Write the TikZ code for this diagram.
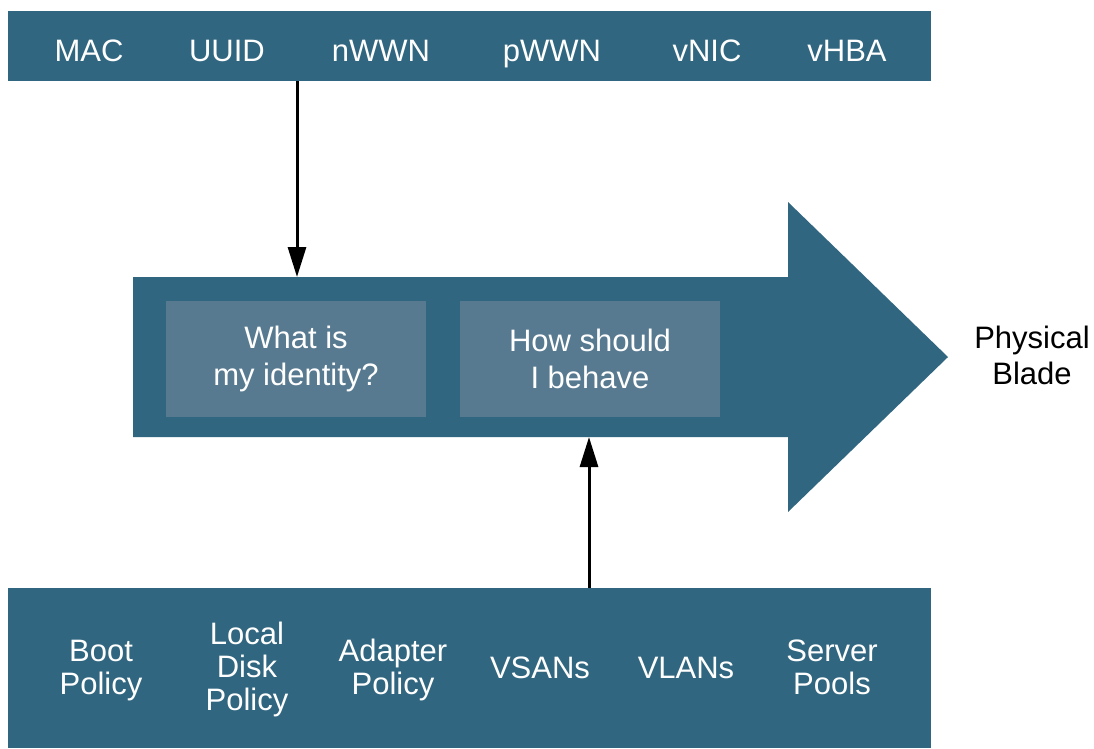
\documentclass[tikz,border=0pt]{standalone}
\usepackage{fontspec}
\setmainfont{Liberation Sans}
\usepackage{tikz}
\usetikzlibrary{arrows.meta}
\usetikzlibrary{positioning}
\pgfdeclarelayer{nodelayer}
\pgfdeclarelayer{edgelayer}
\pgfsetlayers{main,edgelayer,nodelayer}
\definecolor{ucsblue}{RGB}{48,102,127}
\definecolor{ucslight}{RGB}{88,122,145}
\tikzset{bar/.style={shape=rectangle, fill=ucsblue, draw=none, inner sep=0pt, anchor=center}}
\tikzset{qbox/.style={shape=rectangle, fill=ucslight, draw=none, inner sep=0pt,
minimum width=260pt, minimum height=116pt, text=white, align=center, font=\fontsize{31}{37}\selectfont}}
\tikzset{lbl/.style={inner sep=0pt, anchor=base, text=white, align=center, font=\fontsize{31}{33}\selectfont}}
\tikzset{feed/.style={line width=3pt, -{Triangle[length=30pt, width=18pt]}}}
\tikzstyle{none}=[inner sep=0pt]

\begin{document}
\begin{tikzpicture}[x=1pt, y=-1pt]
        \useasboundingbox (0, 0) rectangle (1094, 748);
        % big arrow towards the blade
        \fill [ucsblue] (133, 277) -- (788, 277) -- (788, 202) -- (948, 357)
                -- (788, 512) -- (788, 437) -- (133, 437) -- cycle;
        \begin{pgfonlayer}{nodelayer}
            \node [bar, minimum width=923pt, minimum height=70pt] (0) at (469.5, 46) {};
            \node [bar, minimum width=923pt, minimum height=160pt] (1) at (469.5, 668) {};
            \node [qbox] (2) at (296, 359) {What is\\my identity?};
            \node [qbox] (3) at (590, 359) {How should\\I behave};
            \node [none, align=center, font=\fontsize{31}{36}\selectfont] (4) at (1032, 355) {Physical\\Blade};
            % identities
            \node [lbl] (5) at (89, 61) {MAC};
            \node [lbl] (6) at (227, 61) {UUID};
            \node [lbl] (7) at (381, 61) {nWWN};
            \node [lbl] (8) at (552, 61) {pWWN};
            \node [lbl] (9) at (707, 61) {vNIC};
            \node [lbl] (10) at (847, 61) {vHBA};
            % policies (base = last line)
            \node [lbl] (11) at (101, 694) {Boot\\Policy};
            \node [lbl] (12) at (247, 710) {Local\\Disk\\Policy};
            \node [lbl] (13) at (393, 694) {Adapter\\Policy};
            \node [lbl] (14) at (540, 678) {VSANs};
            \node [lbl] (15) at (686, 678) {VLANs};
            \node [lbl] (16) at (832, 694) {Server\\Pools};
            \coordinate (17) at (297, 81);
            \coordinate (18) at (297, 277);
            \coordinate (19) at (589, 588);
            \coordinate (20) at (589, 437);
        \end{pgfonlayer}
        \begin{pgfonlayer}{edgelayer}
            \draw [feed] (17) to (18);
            \draw [feed] (19) to (20);
        \end{pgfonlayer}
    \end{tikzpicture}
\end{document}
